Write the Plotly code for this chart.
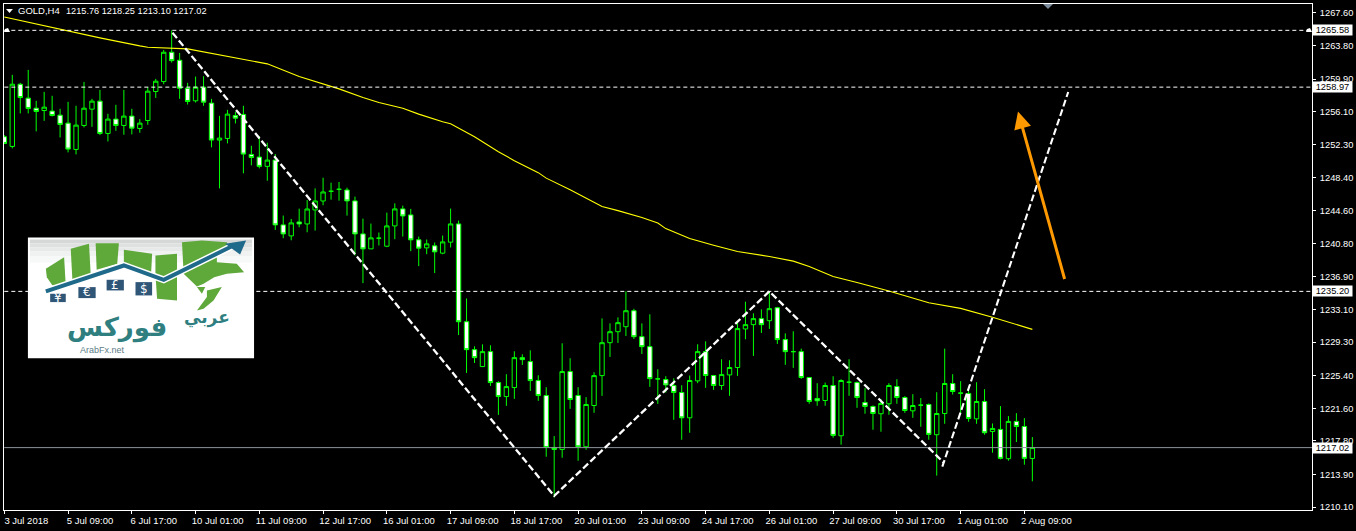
import plotly.graph_objects as go

opens = [1253.20,1252.07,1259.31,1257.69,1256.52,1256.25,1256.18,1255.71,1254.78,1251.72,
1254.51,1256.41,1257.34,1253.58,1255.25,1254.51,1255.60,1254.16,1255.09,1258.46,
1259.62,1263.03,1262.10,1258.85,1257.38,1258.96,1257.11,1252.81,1253.00,1255.67,
1255.79,1251.14,1250.83,1249.75,1250.48,1242.94,1241.66,1243.28,1243.05,1244.68,
1245.72,1246.85,1247.08,1247.00,1245.73,1241.89,1240.15,1241.39,1240.46,1242.82,
1244.80,1244.10,1241.20,1240.27,1240.50,1239.65,1240.93,1243.05,1231.67,1228.42,
1226.45,1228.19,1224.59,1222.96,1224.01,1227.49,1227.03,1224.82,1223.08,1217.04,
1216.81,1225.87,1223.08,1217.12,1221.92,1225.40,1229.23,1230.51,1231.09,1232.95,
1229.93,1228.77,1225.02,1224.94,1224.24,1223.43,1220.49,1224.79,1228.19,1225.41,
1224.25,1225.48,1226.34,1230.83,1231.33,1232.03,1231.79,1233.30,1229.59,1228.19,
1228.19,1225.18,1222.74,1222.50,1224.25,1218.40,1224.63,1224.59,1222.27,1221.81,
1220.96,1222.12,1224.13,1222.85,1221.30,1221.96,1222.04,1218.52,1220.99,1224.48,
1223.36,1223.32,1220.37,1222.39,1218.90,1219.14,1215.73,1220.07,1219.48,1215.76]

highs = [1253.39,1260.40,1259.47,1260.98,1257.38,1258.42,1257.96,1256.45,1257.26,1256.80,
1259.58,1257.61,1258.65,1255.87,1256.91,1258.65,1256.45,1255.25,1258.96,1259.93,
1263.30,1265.58,1262.95,1259.47,1260.20,1260.24,1257.61,1255.63,1256.33,1256.10,
1256.80,1252.15,1253.27,1252.50,1251.18,1244.02,1243.63,1244.83,1245.84,1247.19,
1248.43,1247.85,1247.93,1247.27,1246.23,1243.67,1243.09,1242.05,1244.37,1245.45,
1245.18,1244.80,1241.58,1241.24,1240.89,1241.70,1244.84,1243.44,1234.38,1228.81,
1229.04,1228.93,1224.74,1225.56,1228.23,1227.88,1228.34,1225.44,1224.05,1218.36,
1229.16,1227.42,1224.05,1222.89,1225.79,1232.06,1231.48,1232.18,1235.20,1233.18,
1231.48,1232.53,1226.14,1225.33,1225.09,1224.28,1225.41,1229.05,1229.39,1225.48,
1227.30,1227.19,1231.52,1234.00,1232.65,1233.11,1235.20,1233.40,1230.32,1230.56,
1228.54,1225.18,1224.52,1224.59,1225.33,1224.98,1227.30,1224.71,1223.94,1221.92,
1222.66,1224.52,1224.98,1223.01,1223.24,1222.78,1222.16,1223.47,1228.54,1225.56,
1224.75,1224.09,1224.63,1223.82,1219.83,1221.85,1220.69,1221.03,1220.45,1218.25]

lows = [1252.34,1251.84,1255.91,1255.91,1253.82,1255.05,1255.56,1253.12,1251.38,1251.14,
1254.28,1254.36,1253.39,1252.65,1253.89,1253.43,1253.47,1253.66,1254.59,1257.72,
1259.31,1261.83,1257.61,1256.95,1257.18,1256.80,1251.96,1247.19,1252.42,1254.74,
1248.94,1249.87,1249.52,1248.08,1242.35,1241.39,1241.15,1242.66,1242.08,1242.28,
1245.22,1245.88,1245.76,1244.02,1239.38,1236.16,1240.15,1240.54,1240.35,1241.27,
1241.58,1239.88,1238.14,1239.53,1237.33,1239.53,1240.31,1230.12,1225.71,1226.87,
1226.41,1224.20,1220.83,1221.88,1222.69,1226.64,1223.62,1222.46,1215.96,1211.24,
1215.84,1221.53,1215.49,1216.77,1221.07,1223.04,1227.57,1229.20,1230.01,1229.66,
1227.92,1224.09,1222.11,1223.43,1220.26,1217.94,1218.75,1224.52,1223.97,1223.74,
1223.74,1223.05,1225.37,1229.63,1227.69,1230.36,1230.83,1229.08,1226.65,1226.30,
1225.02,1222.12,1221.89,1221.89,1218.17,1217.36,1223.05,1221.65,1220.96,1219.10,
1218.87,1220.84,1222.12,1221.07,1220.49,1219.45,1217.94,1213.76,1219.79,1223.20,
1220.99,1220.03,1219.79,1218.52,1216.43,1215.65,1215.50,1217.67,1215.03,1213.10]

closes = [1252.42,1259.31,1257.76,1256.49,1256.14,1256.64,1255.67,1254.63,1251.76,1254.55,
1256.52,1257.34,1253.58,1255.25,1254.51,1255.60,1254.20,1254.78,1258.50,1259.66,
1263.03,1262.06,1258.85,1257.30,1258.96,1257.22,1252.81,1253.04,1255.83,1255.36,
1251.18,1250.79,1249.75,1250.48,1242.94,1241.89,1243.17,1243.05,1244.79,1245.72,
1246.77,1246.85,1247.08,1245.73,1241.89,1240.15,1241.43,1241.39,1242.82,1244.80,
1243.98,1241.20,1240.23,1240.73,1239.80,1240.96,1243.05,1231.67,1228.42,1227.49,
1228.19,1224.59,1222.96,1224.12,1227.49,1227.26,1224.82,1223.08,1217.04,1216.81,
1225.87,1222.62,1217.12,1222.04,1225.40,1229.23,1230.51,1231.56,1232.95,1229.93,
1228.77,1225.05,1225.02,1224.32,1223.43,1220.49,1224.83,1228.19,1225.41,1224.25,
1225.52,1226.34,1230.87,1231.33,1232.03,1231.33,1233.19,1229.59,1228.19,1228.19,
1225.18,1222.39,1222.47,1224.25,1218.44,1224.83,1224.63,1222.85,1221.81,1220.99,
1222.16,1224.25,1222.85,1221.34,1221.92,1221.96,1218.56,1220.99,1224.48,1223.55,
1223.36,1220.41,1222.39,1218.75,1219.25,1215.77,1220.07,1219.48,1215.77,1217.02]

ma_index = [0,7,12,17,18,23,25,30,33,37,42,45,47,50,52,55,56,59,62,64,67,68,71,75,77,80,82,83,
86,89,92,96,99,101,104,107,111,116,120,124,129]
ma_values = [1267.14,1265.68,1264.70,1263.77,1263.62,1263.42,1263.07,1262.26,1261.68,1260.22,
1258.77,1257.76,1257.18,1256.52,1255.83,1254.94,1254.71,1253.20,1251.46,1250.41,1249.02,1248.38,
1247.04,1245.07,1244.60,1243.79,1243.15,1242.51,1241.35,1240.57,1239.84,1239.26,1238.72,1238.10,
1236.94,1236.24,1235.25,1233.88,1233.22,1232.18,1230.78]

date_labels = ["3 Jul 2018","5 Jul 09:00","6 Jul 17:00","10 Jul 01:00","11 Jul 09:00","12 Jul 17:00",
"16 Jul 01:00","17 Jul 09:00","18 Jul 17:00","20 Jul 01:00","23 Jul 09:00","24 Jul 17:00",
"26 Jul 01:00","27 Jul 09:00","30 Jul 17:00","1 Aug 01:00","2 Aug 09:00"]
date_ticks = list(range(0, 136, 8))[:len(date_labels)]
price_ticks = [1267.60,1263.80,1259.90,1256.10,1252.30,1248.40,1244.60,1240.80,1236.90,1233.10,
1229.30,1225.40,1221.60,1217.80,1213.90,1210.10]
dashed_levels = [1265.58,1258.97,1235.20]
last_price = 1217.02
trend_a_x = [21.1,69.0,96.0,117.85]
trend_a_y = [1265.3,1211.4,1235.2,1215.3]
trend_b_x = [117.7,133.5]
trend_b_y = [1214.8,1258.4]
arrow_tail = (133.1,1236.47)
arrow_tip = (127.2,1256.14)

FONT = "Liberation Sans"
L, R, T, B = 3, 1316, 3, 510
def pxx(X): return (X-L)/(R-L)
def pxy(Y): return (B-Y)/(B-T)
def path(points, close=True):
    s = "M " + " L ".join(f"{pxx(x):.5f} {pxy(y):.5f}" for x, y in points)
    return s + " Z" if close else s
def zp(points):  # logo artwork, placed relative to the logo box
    return [(20+a/3, 230+b/3) for a, b in points]

fig = go.Figure()
idx = list(range(len(opens)))
fig.add_trace(go.Candlestick(x=idx, open=opens, high=highs, low=lows, close=closes,
    whiskerwidth=0,
    increasing=dict(line=dict(color="#00ff00", width=1), fillcolor="#000000"),
    decreasing=dict(line=dict(color="#00ff00", width=1), fillcolor="#ffffff"), showlegend=False))
fig.add_trace(go.Scatter(x=ma_index, y=ma_values, mode="lines", line=dict(color="#ffff00", width=1.1), showlegend=False))
for lv in dashed_levels:
    fig.add_trace(go.Scatter(x=[0,164.1], y=[lv,lv], mode="lines",
        line=dict(color="#ffffff", width=1, dash="4px,3px"), showlegend=False))
fig.add_trace(go.Scatter(x=[0,164.1], y=[last_price,last_price], mode="lines",
    line=dict(color="#8d949c", width=1), showlegend=False))
fig.add_trace(go.Scatter(x=trend_a_x, y=trend_a_y, mode="lines",
    line=dict(color="#ffffff", width=2.3, dash="7px,3px"), showlegend=False))
fig.add_trace(go.Scatter(x=trend_b_x, y=trend_b_y, mode="lines",
    line=dict(color="#ffffff", width=2.1, dash="7px,3px"), showlegend=False))

shapes = []
def poly(points, color):
    shapes.append(dict(type="path", xref="paper", yref="paper", path=path(points), fillcolor=color,
        line=dict(width=0), layer="above"))
def stroke(points, color, width):
    shapes.append(dict(type="path", xref="paper", yref="paper", path=path(points, close=False),
        line=dict(color=color, width=width), layer="above"))
# header triangle, side markers, top marker
poly([(5,8),(12,8),(8.5,12)], "#ffffff")
poly([(1046,3),(1056,3),(1051,8)], "#7c8b9b")
poly([(3,31),(4,28),(7,27),(9,31)], "#ffffff")
poly([(1310,31),(1311,28),(1314,27),(1316,31)], "#ffffff")
# logo box with a soft grey band fading down from its top edge
poly([(27,237),(254,237),(254,358),(27,358)], "#ffffff")
for y0, y1, c in [(239,243,"#d6d8d8"),(243,247,"#dfe1e1"),(247,251,"#e8e9e9"),(251,256,"#f0f1f1"),(256,262,"#f7f8f8")]:
    poly([(29,y0),(252,y0),(252,y1),(29,y1)], c)
greens = [
 [(75,115),(130,80),(135,165),(95,165),(78,140)],
 [(150,55),(205,40),(210,130),(155,150)],
 [(225,38),(295,38),(290,100),(228,118)],
 [(310,58),(395,70),(392,128),(310,100)],
 [(405,75),(470,70),(470,210),(410,205),(405,130)],
 [(485,35),(545,30),(620,35),(630,60),(590,70),(590,95),(650,100),(672,125),(620,130),(582,140),(550,160),(530,168),(490,130)],
 [(530,170),(555,170),(545,190)],
 [(560,180),(605,170),(580,210),(550,235),(530,240),(560,200)],
]
for g in greens:
    poly(zp(g), "#5fa83a")
arrow_path = zp([(75,183),(310,105),(430,148),(640,45)])
stroke(arrow_path, "#ffffff", 7)
stroke(arrow_path, "#1f6a8a", 4)
poly(zp([(615,40),(678,30),(660,72)]), "#1f6a8a")
for box in [(88,190,135,215),(173,170,225,203),(258,148,310,180),(345,155,395,195)]:
    a, b, c, d = box
    poly(zp([(a,b),(c,b),(c,d),(a,d)]), "#2f5577")

annots = []
def text(X, Y, s, size=9.5, color="#ffffff", anchor="left", family=FONT):
    annots.append(dict(xref="paper", yref="paper", x=pxx(X), y=pxy(Y), text=s, showarrow=False,
        xanchor=anchor, yanchor="middle", font=dict(family=family, size=size, color=color)))
text(15, 10, "GOLD,H4", size=9.5)
text(63, 10, "1215.76 1218.25 1213.10 1217.02", size=9.2)
for lv in dashed_levels + [last_price]:
    annots.append(dict(xref="paper", yref="y", x=pxx(1316.5), y=lv, text=f"{lv:.2f}", showarrow=False,
        xanchor="left", yanchor="middle", align="center", width=39, height=10, borderpad=0, bgcolor="#ffffff",
        font=dict(family=FONT, size=9.3, color="#000000")))
annots.append(dict(xref="x", yref="y", axref="x", ayref="y", x=arrow_tip[0], y=arrow_tip[1],
    ax=arrow_tail[0], ay=arrow_tail[1], text="", showarrow=True, arrowhead=2, arrowsize=1.15,
    arrowwidth=3, arrowcolor="#ff9900"))
# logo text
for (a, b, s) in [(111,203,"¥"),(199,186,"€"),(284,164,"£"),(370,175,"$")]:
    text(20+a/3, 230+b/3, s, size=12, anchor="center", family="DejaVu Sans")
text(20+560/3, 230+262/3, "<b>عربي</b>", size=17, color="#2f7f80", anchor="center", family="DejaVu Sans")
text(20+290/3, 230+292/3, "<b>فوركس</b>", size=26, color="#2f7f80", anchor="center", family="DejaVu Sans")
text(20+247/3, 230+358/3, "ArabFx.net", size=9, color="#5d7d88", anchor="center")

fig.update_layout(width=1356, height=531, autosize=False, paper_bgcolor="#000000", plot_bgcolor="#000000",
    margin=dict(l=L, r=1356-R, t=T, b=531-B), showlegend=False, shapes=shapes, annotations=annots,
    boxgap=0.2, boxgroupgap=0.3125,
    font=dict(family=FONT, size=9.3, color="#ffffff"))
fig.update_xaxes(range=[-0.04,164.09], rangeslider_visible=False, tickmode="array", tickvals=date_ticks,
    ticktext=date_labels, ticks="outside", ticklen=3, tickcolor="#ffffff", tickwidth=1, showgrid=False,
    zeroline=False, showline=True, linecolor="#ffffff", linewidth=1, mirror=True, ticklabelshift=22,
    ticklabelstandoff=-1, tickangle=0, ticklabeloverflow="allow", tickfont=dict(family=FONT, size=9.5, color="#ffffff"))
fig.update_yaxes(range=[1209.76,1268.645], side="right", tickmode="array", tickvals=price_ticks,
    ticktext=[f"{v:.2f}" for v in price_ticks], ticks="outside", ticklen=3, tickcolor="#ffffff", tickwidth=1,
    showgrid=False, zeroline=False, showline=True, linecolor="#ffffff", linewidth=1, mirror=True,
    ticklabelstandoff=2, tickfont=dict(family=FONT, size=9.3, color="#ffffff"))
fig.write_html("out.html", config=dict(displayModeBar=False),
    post_script="document.body.style.margin='0';document.body.style.overflow='hidden';document.body.style.background='#000';")
